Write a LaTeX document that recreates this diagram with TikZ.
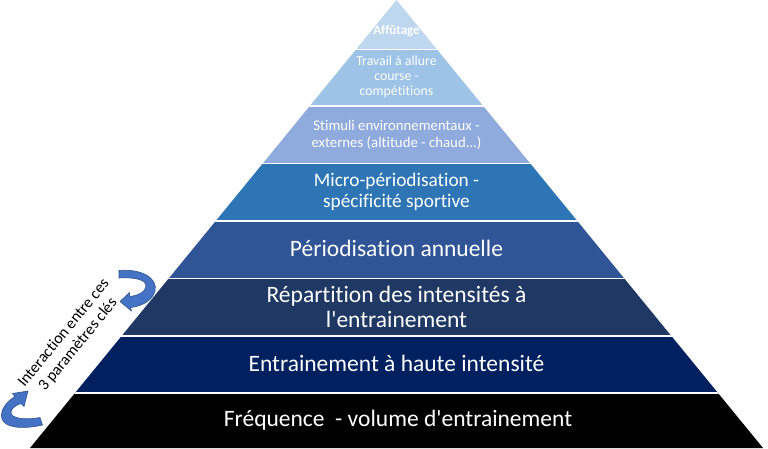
\documentclass[tikz,border=0pt]{standalone}
\usepackage{fontspec}
\setmainfont{Carlito}[Ligatures={CommonOff,TeXOff}]
\definecolor{cA}{HTML}{BDD7EE}
\definecolor{cB}{HTML}{9DC3E6}
\definecolor{cC}{HTML}{8FAADC}
\definecolor{cD}{HTML}{2E75B6}
\definecolor{cE}{HTML}{2F5597}
\definecolor{cF}{HTML}{203864}
\definecolor{cG}{HTML}{002060}
\definecolor{cH}{HTML}{000000}
\definecolor{arrowfill}{HTML}{4472C4}
\definecolor{arrowline}{HTML}{2F528F}
\begin{document}
\begin{tikzpicture}[x=1pt,y=-1pt,
  lbl/.style={text=white, align=center, inner sep=0pt, anchor=center},
  sep/.style={draw=white, line width=1.6pt},
  curvarrow/.style={fill=arrowfill, draw=arrowline, line width=0.6pt, line join=round}]
\useasboundingbox (0,0) rectangle (768,448);
% pyramid layers
\begin{scope}
  \clip (396.5,0) -- (763,448) -- (30,448) -- cycle;
  \fill[cA] (0,0) rectangle (768,49.5);
  \fill[cB] (0,49.5) rectangle (768,106);
  \fill[cC] (0,106) rectangle (768,163.5);
  \fill[cD] (0,163.5) rectangle (768,221);
  \fill[cE] (0,221) rectangle (768,278.5);
  \fill[cF] (0,278.5) rectangle (768,336);
  \fill[cG] (0,336) rectangle (768,393);
  \fill[cH] (0,393) rectangle (768,449);
  \foreach \yy in {49.5,106,163.5,221,278.5,336,393}
    \draw[sep] (0,\yy) -- (768,\yy);
\end{scope}
% labels
\node[lbl, font=\fontsize{13}{14}\selectfont\bfseries] (l1) at (396.5,31.5) {Affûtage};
\node[lbl, font=\fontsize{13.8}{15}\selectfont] (l2) at (396.5,76.7) {Travail à allure\\course -\\compétitions};
\node[lbl, font=\fontsize{14.8}{16.6}\selectfont] (l3) at (396.5,135) {Stimuli environnementaux -\\externes (altitude - chaud...)};
\node[lbl, font=\fontsize{19.3}{21}\selectfont] (l4) at (396.5,192.2) {Micro-périodisation -\\spécificité sportive};
\node[lbl, font=\fontsize{23.5}{24.3}\selectfont] (l5) at (396.5,248) {Périodisation annuelle};
\node[lbl, font=\fontsize{23.5}{24.3}\selectfont] (l6) at (396.5,307) {Répartition des intensités à\\l'entrainement};
\node[lbl, font=\fontsize{23.5}{24.3}\selectfont] (l7) at (396.5,363.3) {Entrainement à haute intensité};
\node[lbl, font=\fontsize{23.5}{24.3}\selectfont] (l8) at (398,420) {Fréquence \ - volume d'entrainement};
% side annotation
\node[align=center, inner sep=0pt, rotate=50.7, font=\fontsize{16}{18.4}\selectfont] (note) at (71,339) {Interaction entre ces\\3 paramètres clés};
% curved arrows
\path[curvarrow] (119,270.5) .. controls (143,268.5) and (158,279) .. (155,291)
  .. controls (152.5,300) and (143,306) .. (130.5,307.5) -- (131.5,311) -- (120,301.5)
  -- (129.5,292.5) -- (129.8,296.5) .. controls (139,295.5) and (146,291) .. (146,286)
  .. controls (146,280) and (136,277) .. (119,278) -- cycle;
\path[curvarrow] (28,391) -- (24,406.5) -- (21,403.5)
  .. controls (15,405.5) and (10.5,409) .. (11,413) .. controls (11.5,418) and (24,420.5) .. (40,417.5)
  -- (42.5,425) .. controls (20,430) and (5,427) .. (2,419)
  .. controls (-0.5,411) and (6,402) .. (15,396.5) -- (12.5,393.5) -- cycle;
\end{tikzpicture}
\end{document}
